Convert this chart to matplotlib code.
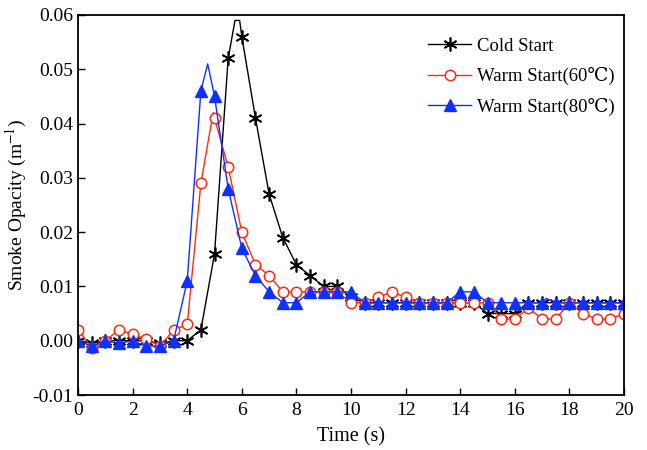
import numpy as np
import matplotlib
matplotlib.use('Agg')
import matplotlib.pyplot as plt

# marker samples every 0.5 s
time = np.arange(0, 20.01, 0.5)

cold = [0.000, -0.0005, 0.000, 0.000, 0.000, 0.000, -0.0005, 0.000, 0.000, 0.002,
        0.016, 0.052, 0.056, 0.041, 0.027, 0.019, 0.014, 0.012, 0.010, 0.010,
        0.008, 0.007, 0.007, 0.007, 0.007, 0.007, 0.007, 0.007, 0.007, 0.007,
        0.005, 0.005, 0.005, 0.007, 0.007, 0.007, 0.007, 0.007, 0.007, 0.007, 0.007]
warm60 = [0.002, -0.0013, 0.000, 0.002, 0.0012, 0.0003, -0.001, 0.002, 0.003, 0.029,
          0.041, 0.032, 0.020, 0.014, 0.012, 0.009, 0.009, 0.009, 0.009, 0.009,
          0.007, 0.007, 0.008, 0.009, 0.008, 0.007, 0.007, 0.007, 0.007, 0.007,
          0.007, 0.004, 0.004, 0.006, 0.004, 0.004, 0.007, 0.005, 0.004, 0.004, 0.005]
warm80 = [0.000, -0.001, 0.000, -0.0005, 0.000, -0.001, -0.001, 0.000, 0.011, 0.046,
          0.045, 0.028, 0.017, 0.012, 0.009, 0.007, 0.007, 0.009, 0.009, 0.009,
          0.009, 0.007, 0.007, 0.007, 0.007, 0.007, 0.007, 0.007, 0.009, 0.009,
          0.007, 0.007, 0.007, 0.007, 0.007, 0.007, 0.007, 0.007, 0.007, 0.007, 0.007]

# extra points on the curves between markers (peaks)
cold_peak_t, cold_peak_v = [5.75, 5.92], [0.059, 0.059]
warm60_peak_t, warm60_peak_v = [4.95], [0.042]
warm80_peak_t, warm80_peak_v = [4.75, 17.15], [0.051, 0.0078]

plt.rcParams['font.family'] = ['Liberation Serif', 'DejaVu Serif']
plt.rcParams['mathtext.fontset'] = 'stix'

fig = plt.figure(figsize=(6.47, 4.5), dpi=100)
ax = fig.add_axes([0.1206, 0.1222, 0.8439, 0.8445])


def merged(t, v, pt, pv):
    tt = np.concatenate([t, pt])
    vv = np.concatenate([v, pv])
    order = np.argsort(tt, kind='stable')
    tt, vv = tt[order], vv[order]
    marks = [i for i, x in enumerate(tt) if abs(x * 2 - round(x * 2)) < 1e-9]
    return tt, vv, marks


t, v, m = merged(time, cold, cold_peak_t, cold_peak_v)
ax.plot(t, v, color='black', lw=1.0, marker=(6, 2, 0), ms=10, mew=1.2,
        markevery=m, label='Cold Start')
t, v, m = merged(time, warm60, warm60_peak_t, warm60_peak_v)
ax.plot(t, v, color='#ff2a10', lw=1.0, marker='o', ms=7.5, mfc='white', mec='#ff2a10',
        mew=1.1, markevery=m, label='Warm Start(60\u2103)')
t, v, m = merged(time, warm80, warm80_peak_t, warm80_peak_v)
ax.plot(t, v, color='#1030ff', lw=1.0, marker='^', ms=8.5, mfc='#1030ff', mec='#1030ff',
        markevery=m, label='Warm Start(80\u2103)')

ax.set_xlim(0, 20)
ax.set_ylim(-0.01, 0.06)
ax.set_xticks(np.arange(0, 21, 2))
ax.set_yticks(np.arange(-0.01, 0.061, 0.01))
ax.set_yticklabels([f'{y:.2f}' for y in np.arange(-0.01, 0.061, 0.01)])
ax.tick_params(direction='in', labelsize=14, length=5, width=1)
ax.tick_params(axis='x', pad=5)
for s in ax.spines.values():
    s.set_linewidth(1.3)

ax.set_xlabel('Time (s)', fontsize=14.5, labelpad=6)
ax.set_ylabel('Smoke Opacity (m$^{-1}$)', fontsize=14)
ax.yaxis.set_label_coords(-0.09, 0.5)

ax.legend(loc='upper left', bbox_to_anchor=(0.641, 0.94), borderaxespad=0, borderpad=0,
          frameon=False, fontsize=13.5, handlelength=2.3, handletextpad=0.3,
          labelspacing=0.65)

plt.savefig('out.png', dpi=100)
